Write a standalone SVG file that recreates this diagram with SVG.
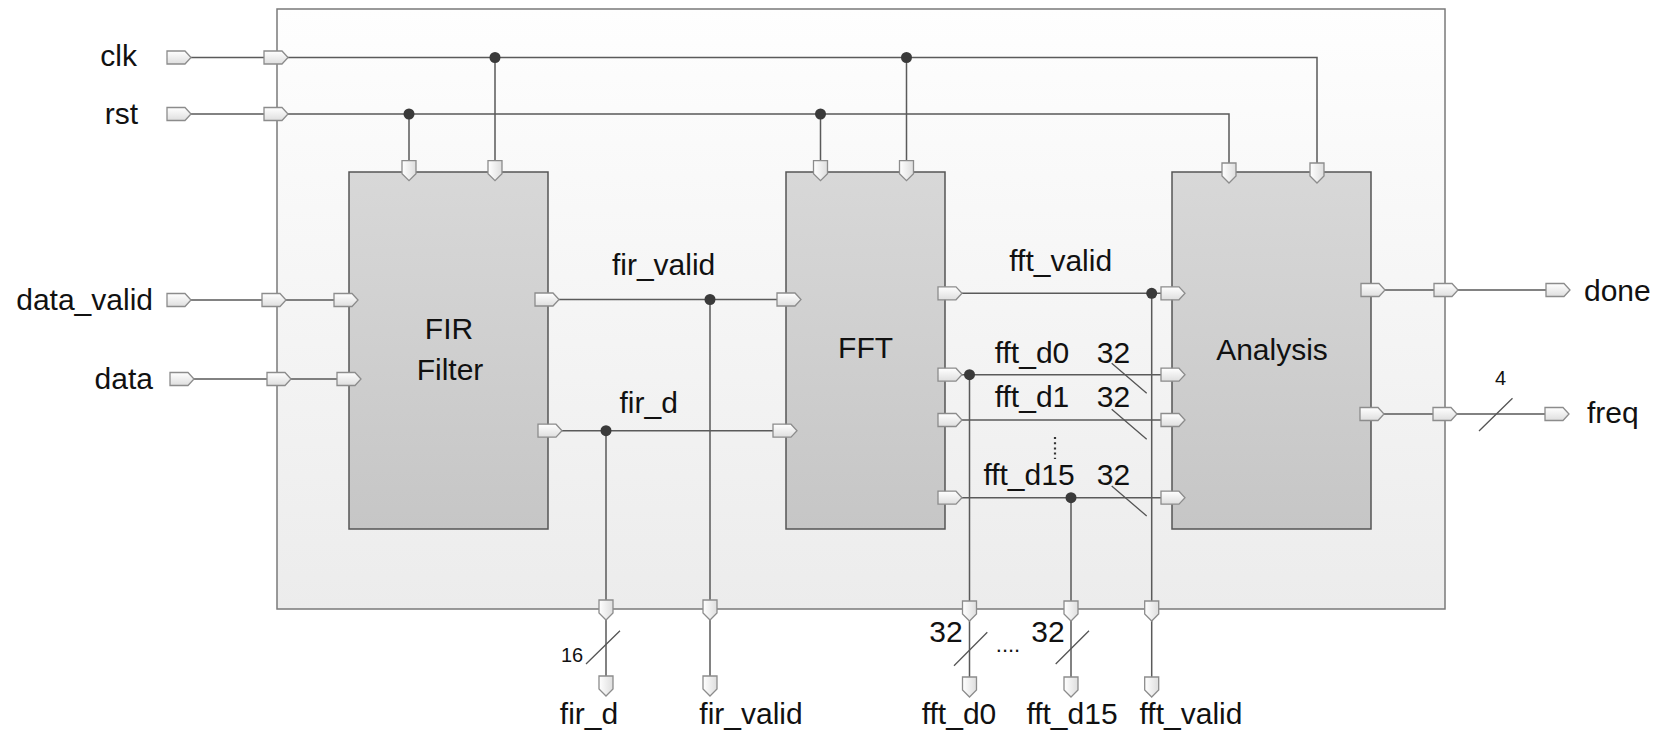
<svg xmlns="http://www.w3.org/2000/svg" xmlns:xlink="http://www.w3.org/1999/xlink" width="1669" height="732" viewBox="0 0 1669 732">
<style>
.t{font-family:"Liberation Sans",Arial,sans-serif;font-size:30px;fill:#111}
.ts{font-family:"Liberation Sans",Arial,sans-serif;font-size:20px;fill:#111}
.w{fill:none;stroke:#5a5a5a;stroke-width:1.5}
.sl{fill:none;stroke:#555;stroke-width:1.3}
.dot{fill:#3a3a3a}
.pin{fill:url(#gPin);stroke:#8c8c8c;stroke-width:1.3}
.pinv{fill:url(#gPinV);stroke:#8c8c8c;stroke-width:1.3}
.blk{fill:url(#gBlk);stroke:#555;stroke-width:1.5}
.outer{fill:url(#gOut);stroke:#7a7a7a;stroke-width:1.5}
</style>
<defs>
<linearGradient id="gPin" x1="0" y1="0" x2="0" y2="1"><stop offset="0" stop-color="#ffffff"/><stop offset="1" stop-color="#dedede"/></linearGradient>
<linearGradient id="gPinV" x1="0" y1="0" x2="1" y2="0"><stop offset="0" stop-color="#ffffff"/><stop offset="1" stop-color="#dedede"/></linearGradient>
<linearGradient id="gBlk" x1="0" y1="0" x2="0" y2="1"><stop offset="0" stop-color="#d8d8d8"/><stop offset="1" stop-color="#c6c6c6"/></linearGradient>
<linearGradient id="gOut" x1="0" y1="0" x2="0" y2="1"><stop offset="0" stop-color="#fefefe"/><stop offset="1" stop-color="#ececec"/></linearGradient>
<path id="pR" d="M0,-6.5H18L24,0L18,6.5H0Z"/>
<path id="pD" d="M-7,0V13L0,20L7,13V0Z"/>
</defs>

<g id="container">
<rect class="outer" x="277" y="9" width="1168" height="600"/>
</g>

<g id="connectors">
<path class="w" d="M191,57.5H1317V163M495,57.5V161M906.5,57.5V161"/>
<path class="w" d="M191,114H1229V163M409,114V161M820.5,114V161"/>
<path class="w" d="M191,300H334M194,379H337"/>
<path class="w" d="M559,299.5H777M710,299.5V677"/>
<path class="w" d="M562,430.7H773M606,430.7V676"/>
<path class="w" d="M962,293.3H1161M1151.7,293.3V677"/>
<path class="w" d="M962,374.7H1161M969.5,374.7V677"/>
<path class="w" d="M962,420H1161"/>
<path class="w" d="M962,497.7H1161M1071,497.7V677"/>
<path class="w" d="M1385,290H1546M1384,414H1545"/>
<circle class="dot" cx="495" cy="57.5" r="5.5"/>
<circle class="dot" cx="906.5" cy="57.5" r="5.5"/>
<circle class="dot" cx="409" cy="114" r="5.5"/>
<circle class="dot" cx="820.5" cy="114" r="5.5"/>
<circle class="dot" cx="710" cy="299.5" r="5.5"/>
<circle class="dot" cx="606" cy="430.7" r="5.5"/>
<circle class="dot" cx="1151.7" cy="293.3" r="5.5"/>
<circle class="dot" cx="969.5" cy="374.7" r="5.5"/>
<circle class="dot" cx="1071" cy="497.7" r="5.5"/>
<path class="sl" d="M1111.7,363.3L1146.7,393.3M1111.7,409.3L1146.7,439.3M1111.7,486L1146.7,516"/>
<path class="sl" d="M1479,431L1512.5,398.3M586,664L620,630.7M954,665.7L987.3,632.3M1055.7,664L1089,630.7"/>
<path d="M1055,437V459" fill="none" stroke="#333" stroke-width="2.2" stroke-dasharray="2,3.2"/>
<text class="t" x="663.6" y="275" text-anchor="middle">fir_valid</text>
<text class="t" x="648.7" y="413.3" text-anchor="middle">fir_d</text>
<text class="t" x="1060.7" y="270.7" text-anchor="middle">fft_valid</text>
<text class="t" x="1032" y="362.7" text-anchor="middle">fft_d0</text>
<text class="t" x="1032" y="406.7" text-anchor="middle">fft_d1</text>
<text class="t" x="1029" y="485" text-anchor="middle">fft_d15</text>
<text class="t" x="1113.5" y="362.7" text-anchor="middle">32</text>
<text class="t" x="1113.5" y="406.7" text-anchor="middle">32</text>
<text class="t" x="1113.5" y="485" text-anchor="middle">32</text>
<text class="ts" x="1500.5" y="385" text-anchor="middle">4</text>
<text class="ts" x="572" y="662.3" text-anchor="middle">16</text>
<text class="t" x="946" y="641.7" text-anchor="middle">32</text>
<text class="t" x="1048" y="641.7" text-anchor="middle">32</text>
<text class="t" x="1008" y="652" text-anchor="middle" style="font-size:22px">....</text>
</g>

<g id="fir">
<rect class="blk" x="349" y="172" width="199" height="357"/>
<text class="t" x="449" y="339.3" text-anchor="middle">FIR</text>
<text class="t" x="450" y="380" text-anchor="middle">Filter</text>
<use href="#pD" class="pinv" x="409" y="160.7"/>
<use href="#pD" class="pinv" x="495" y="160.7"/>
<use href="#pR" class="pin" x="334" y="300"/>
<use href="#pR" class="pin" x="337" y="379"/>
<use href="#pR" class="pin" x="535" y="299.5"/>
<use href="#pR" class="pin" x="538" y="430.7"/>
</g>

<g id="fft">
<rect class="blk" x="786" y="172" width="159" height="357"/>
<text class="t" x="865.6" y="358.3" text-anchor="middle">FFT</text>
<use href="#pD" class="pinv" x="820.5" y="160.7"/>
<use href="#pD" class="pinv" x="906.5" y="160.7"/>
<use href="#pR" class="pin" x="777" y="299.5"/>
<use href="#pR" class="pin" x="773" y="430.7"/>
<use href="#pR" class="pin" x="938" y="293.3"/>
<use href="#pR" class="pin" x="938" y="374.7"/>
<use href="#pR" class="pin" x="938" y="420"/>
<use href="#pR" class="pin" x="938" y="497.7"/>
</g>

<g id="analysis">
<rect class="blk" x="1172" y="172" width="199" height="357"/>
<text class="t" x="1272" y="360" text-anchor="middle">Analysis</text>
<use href="#pD" class="pinv" x="1229" y="163"/>
<use href="#pD" class="pinv" x="1317" y="163"/>
<use href="#pR" class="pin" x="1161" y="293.3"/>
<use href="#pR" class="pin" x="1161" y="374.7"/>
<use href="#pR" class="pin" x="1161" y="420"/>
<use href="#pR" class="pin" x="1161" y="497.7"/>
<use href="#pR" class="pin" x="1361" y="290"/>
<use href="#pR" class="pin" x="1360" y="414"/>
</g>

<g id="port-clk">
<text class="t" x="137" y="66" text-anchor="end">clk</text>
<use href="#pR" class="pin" x="167" y="57.5"/>
<use href="#pR" class="pin" x="264" y="57.5"/>
</g>
<g id="port-rst">
<text class="t" x="138" y="124" text-anchor="end">rst</text>
<use href="#pR" class="pin" x="167" y="114"/>
<use href="#pR" class="pin" x="264" y="114"/>
</g>
<g id="port-data_valid">
<text class="t" x="153" y="310" text-anchor="end">data_valid</text>
<use href="#pR" class="pin" x="167" y="300"/>
<use href="#pR" class="pin" x="262" y="300"/>
</g>
<g id="port-data">
<text class="t" x="153" y="389" text-anchor="end">data</text>
<use href="#pR" class="pin" x="170" y="379"/>
<use href="#pR" class="pin" x="267" y="379"/>
</g>
<g id="port-done">
<use href="#pR" class="pin" x="1434" y="290"/>
<use href="#pR" class="pin" x="1546" y="290"/>
<text class="t" x="1584" y="300.7">done</text>
</g>
<g id="port-freq">
<use href="#pR" class="pin" x="1433" y="414"/>
<use href="#pR" class="pin" x="1545" y="414"/>
<text class="t" x="1587" y="423">freq</text>
</g>
<g id="port-fir_d">
<use href="#pD" class="pinv" x="606" y="600"/>
<use href="#pD" class="pinv" x="606" y="676"/>
<text class="t" x="589" y="723.5" text-anchor="middle">fir_d</text>
</g>
<g id="port-fir_valid">
<use href="#pD" class="pinv" x="710" y="600"/>
<use href="#pD" class="pinv" x="710" y="676"/>
<text class="t" x="751" y="723.5" text-anchor="middle">fir_valid</text>
</g>
<g id="port-fft_d0">
<use href="#pD" class="pinv" x="969.5" y="601"/>
<use href="#pD" class="pinv" x="969.5" y="677"/>
<text class="t" x="959" y="723.5" text-anchor="middle">fft_d0</text>
</g>
<g id="port-fft_d15">
<use href="#pD" class="pinv" x="1071" y="601"/>
<use href="#pD" class="pinv" x="1071" y="677"/>
<text class="t" x="1072" y="723.5" text-anchor="middle">fft_d15</text>
</g>
<g id="port-fft_valid">
<use href="#pD" class="pinv" x="1151.7" y="601"/>
<use href="#pD" class="pinv" x="1151.7" y="677"/>
<text class="t" x="1191" y="723.5" text-anchor="middle">fft_valid</text>
</g>
</svg>
